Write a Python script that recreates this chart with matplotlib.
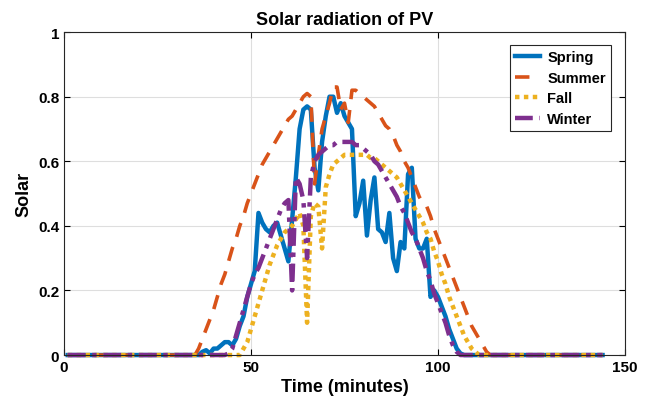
#!/usr/bin/env python3

import numpy as np
import matplotlib
matplotlib.use("Agg")
import matplotlib.pyplot as plt

plt.rcParams["font.family"] = ["Liberation Sans", "DejaVu Sans"]
plt.rcParams["font.weight"] = "bold"

# time axis, one sample per minute
t = np.arange(1, 145)

# spring: values for t = 35..107, zero elsewhere
spring_mid = [0.0, 0.0, 0.01, 0.015, 0.005, 0.02, 0.02, 0.03, 0.04, 0.04,
              0.03, 0.05, 0.09, 0.12, 0.18, 0.22, 0.26, 0.44, 0.41, 0.39,
              0.38, 0.40, 0.41, 0.37, 0.33, 0.29, 0.42, 0.55, 0.70, 0.76,
              0.77, 0.76, 0.58, 0.51, 0.66, 0.74, 0.80, 0.80, 0.75, 0.78,
              0.74, 0.72, 0.70, 0.43, 0.47, 0.54, 0.37, 0.48, 0.55, 0.39,
              0.38, 0.35, 0.44, 0.30, 0.26, 0.35, 0.33, 0.56, 0.58, 0.36,
              0.33, 0.33, 0.36, 0.18, 0.20, 0.18, 0.15, 0.12, 0.08, 0.05,
              0.02, 0.005, 0.0]
spring = [0.0] * 34 + spring_mid + [0.0] * (144 - 34 - len(spring_mid))

# summer: t = 35..114
summer_mid = [0.0, 0.02, 0.05, 0.08, 0.11, 0.14, 0.18, 0.22, 0.25, 0.29,
              0.33, 0.36, 0.40, 0.43, 0.47, 0.50, 0.53, 0.56, 0.59, 0.61,
              0.63, 0.65, 0.67, 0.69, 0.71, 0.73, 0.74, 0.76, 0.78, 0.80,
              0.81, 0.80, 0.53, 0.62, 0.70, 0.74, 0.78, 0.83, 0.83, 0.76,
              0.78, 0.72, 0.82, 0.82, 0.81, 0.80, 0.79, 0.78, 0.77, 0.75,
              0.73, 0.71, 0.70, 0.68, 0.65, 0.63, 0.60, 0.58, 0.55, 0.52,
              0.49, 0.47, 0.46, 0.43, 0.39, 0.36, 0.33, 0.30, 0.27, 0.24,
              0.21, 0.18, 0.15, 0.12, 0.09, 0.07, 0.05, 0.03, 0.01, 0.0]
summer = [0.0] * 34 + summer_mid + [0.0] * (144 - 34 - len(summer_mid))

# fall: t = 46..111
fall_mid = [0.0, 0.0, 0.02, 0.04, 0.08, 0.12, 0.16, 0.20, 0.24, 0.28,
            0.31, 0.34, 0.36, 0.38, 0.39, 0.40, 0.42, 0.44, 0.40, 0.10,
            0.43, 0.47, 0.46, 0.33, 0.52, 0.56, 0.59, 0.60, 0.61, 0.62,
            0.62, 0.62, 0.62, 0.62, 0.62, 0.62, 0.61, 0.61, 0.60, 0.59,
            0.58, 0.57, 0.56, 0.55, 0.53, 0.51, 0.49, 0.47, 0.45, 0.43,
            0.41, 0.38, 0.36, 0.32, 0.29, 0.25, 0.22, 0.18, 0.15, 0.12,
            0.09, 0.06, 0.04, 0.02, 0.01, 0.0]
fall = [0.0] * 45 + fall_mid + [0.0] * (144 - 45 - len(fall_mid))

# winter: t = 43..106
winter_mid = [0.0, 0.005, 0.02, 0.06, 0.10, 0.14, 0.18, 0.22, 0.25, 0.27,
              0.30, 0.33, 0.36, 0.39, 0.42, 0.45, 0.47, 0.48, 0.20, 0.55,
              0.53, 0.48, 0.30, 0.55, 0.60, 0.62, 0.63, 0.64, 0.65, 0.65,
              0.66, 0.66, 0.66, 0.66, 0.66, 0.65, 0.65, 0.64, 0.63, 0.62,
              0.60, 0.59, 0.57, 0.55, 0.53, 0.51, 0.49, 0.46, 0.44, 0.41,
              0.38, 0.36, 0.33, 0.30, 0.26, 0.23, 0.19, 0.16, 0.13, 0.10,
              0.06, 0.03, 0.01, 0.0]
winter = [0.0] * 42 + winter_mid + [0.0] * (144 - 42 - len(winter_mid))

fig = plt.figure(figsize=(6.49, 4.14), dpi=100)
ax = fig.add_axes([0.0986, 0.140, 0.8644, 0.780])

ax.plot(t, spring, color="#0072BD", lw=3.2, label="Spring", clip_on=False)
ax.plot(t, summer, color="#D95319", lw=2.6, ls=(0, (4, 3)), label="Summer", clip_on=False)
ax.plot(t, fall, color="#EDB120", lw=3.2, ls=(0, (1, 1)), label="Fall", clip_on=False)
ax.plot(t, winter, color="#7E2F8E", lw=3.2, ls=(0, (4, 1.5, 1, 1.5)), label="Winter", clip_on=False)

ax.set_xlim(0, 150)
ax.set_ylim(0, 1)
ax.set_xticks([0, 50, 100, 150])
ax.set_yticks([0, 0.2, 0.4, 0.6, 0.8, 1])
ax.set_yticklabels(["0", "0.2", "0.4", "0.6", "0.8", "1"])
ax.tick_params(direction="in", top=True, right=True, labelsize=11, length=4, width=0.8)
ax.grid(True, color="#dedede", lw=0.8)
ax.set_axisbelow(True)
for s in ax.spines.values():
    s.set_linewidth(0.8)
    s.set_color("#262626")

ax.set_title("Solar radiation of PV", fontsize=13, fontweight="bold", pad=6)
ax.set_xlabel("Time (minutes)", fontsize=13, fontweight="bold", labelpad=3)
ax.set_ylabel("Solar", fontsize=13, fontweight="bold", labelpad=4)

leg = ax.legend(loc="upper right", bbox_to_anchor=(0.975, 0.96), borderaxespad=0,
                fontsize=10.5, fancybox=False, framealpha=1, edgecolor="#262626",
                handlelength=1.7, handletextpad=0.5, borderpad=0.35,
                labelspacing=0.45)
leg.get_frame().set_linewidth(0.8)

fig.savefig("out.png", dpi=100)
